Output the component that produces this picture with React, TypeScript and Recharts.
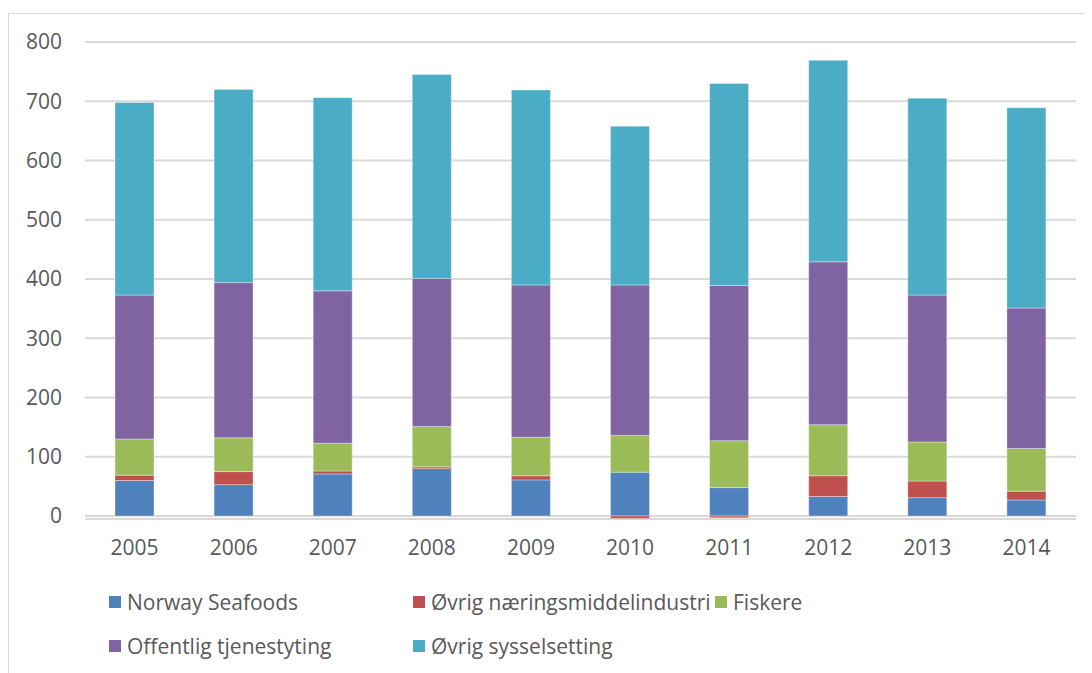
import { BarChart, Bar, XAxis, YAxis, CartesianGrid, Legend } from 'recharts'

const years = ['2005', '2006', '2007', '2008', '2009', '2010', '2011', '2012', '2013', '2014']
const norwaySeafoods = [60, 53, 71, 80, 61, 74, 48, 33, 31, 27]
const ovrigNaering = [9, 22, 5, 3, 7, -4, -3, 35, 28, 15]
const fiskere = [61, 57, 47, 68, 65, 62, 79, 86, 66, 72]
const offentlig = [243, 262, 257, 250, 257, 254, 262, 275, 248, 237]
const ovrigSyssel = [325, 326, 326, 344, 329, 268, 341, 340, 332, 338]
const yTicks = [0, 100, 200, 300, 400, 500, 600, 700, 800]

const series = [
  { key: 'ns', name: 'Norway Seafoods', color: '#4f81bd', values: norwaySeafoods },
  { key: 'on', name: 'Øvrig næringsmiddelindustri', color: '#c0504d', values: ovrigNaering },
  { key: 'fi', name: 'Fiskere', color: '#9bbb59', values: fiskere },
  { key: 'of', name: 'Offentlig tjenestyting', color: '#8064a2', values: offentlig },
  { key: 'os', name: 'Øvrig sysselsetting', color: '#4bacc6', values: ovrigSyssel },
]

const data = years.map((year, i) => {
  const row: Record<string, string | number> = { year }
  series.forEach((s) => {
    row[s.key] = s.values[i]
  })
  return row
})

const font = '"Open Sans", sans-serif'
const textColor = '#595959'

const colLefts = [100, 404, 706]

function ChartLegend() {
  return (
    <div style={{ position: 'relative', height: 125, fontFamily: font, fontSize: 21, color: textColor }}>
      {series.map((s, i) => {
        const row = i < 3 ? 0 : 1
        const col = i < 3 ? i : i - 3
        return (
          <div
            key={s.key}
            style={{
              position: 'absolute',
              left: colLefts[col],
              top: row === 0 ? 41 : 85,
              height: 24,
              display: 'flex',
              alignItems: 'center',
              whiteSpace: 'nowrap',
            }}
          >
            <span style={{ width: 12, height: 12, background: s.color, marginRight: 6, display: 'inline-block' }} />
            {s.name}
          </div>
        )
      })}
    </div>
  )
}

export default function App() {
  return (
    <div style={{ marginTop: 5, borderLeft: '1px solid #d9d9d9', borderTop: '1px solid #d9d9d9', width: 1083 }}>
      <BarChart
        width={1083}
        height={660}
        data={data}
        stackOffset="sign"
        barSize={39}
        margin={{ top: 28, right: 16, bottom: 0, left: 0 }}
      >
        <CartesianGrid vertical={false} stroke="#d9d9d9" strokeWidth={2} />
        <XAxis
          dataKey="year"
          axisLine={false}
          tickLine={false}
          tickMargin={15}
          height={30}
          tick={{ fill: textColor, fontSize: 21, fontFamily: font }}
        />
        <YAxis
          domain={[-5, 800]}
          ticks={yTicks}
          axisLine={false}
          tickLine={false}
          tickMargin={17}
          width={76}
          tick={{ fill: textColor, fontSize: 21, fontFamily: font }}
        />
        <Legend verticalAlign="bottom" height={125} content={() => <ChartLegend />} />
        {series.map((s) => (
          <Bar
            key={s.key}
            dataKey={s.key}
            name={s.name}
            stackId="a"
            fill={s.color}
            stroke="#ffffff"
            strokeOpacity={0.35}
            isAnimationActive={false}
          />
        ))}
      </BarChart>
    </div>
  )
}
